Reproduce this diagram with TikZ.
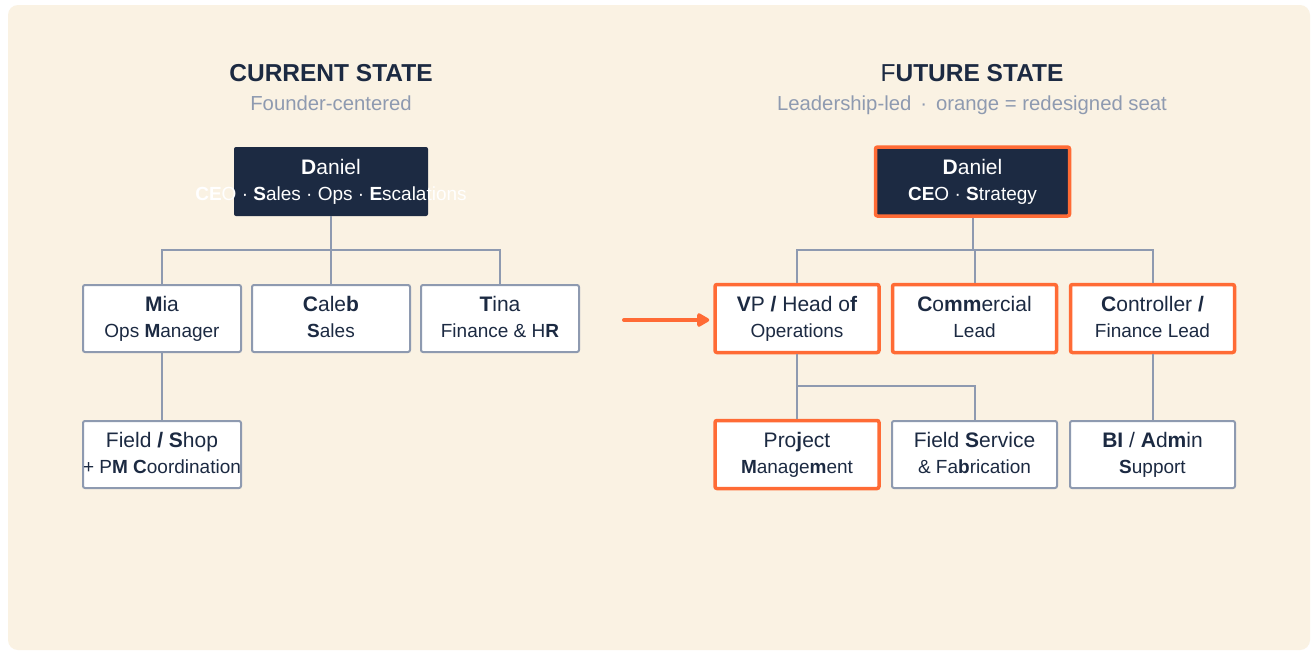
\documentclass[tikz,border=0pt]{standalone}
\usepackage{fontspec}
\setmainfont{Liberation Sans}
\usetikzlibrary{arrows.meta}
\definecolor{cream}{HTML}{FAF2E3}
\definecolor{navy}{HTML}{1C2A42}
\definecolor{slate}{HTML}{8E9AB0}
\definecolor{orng}{HTML}{FF6B35}
\begin{document}
\begin{tikzpicture}[x=1pt,y=-1pt,
  box/.style={draw=slate,line width=2pt,fill=white,rounded corners=2pt,minimum width=158pt,minimum height=67pt,inner sep=0pt},
  obox/.style={box,draw=orng,line width=3.5pt,minimum width=164pt},
  dbox/.style={draw=none,fill=navy,rounded corners=2pt,minimum width=194pt,minimum height=69pt,inner sep=0pt},
  nm/.style={anchor=base,inner sep=0pt,text=navy,font=\fontsize{21}{24}\selectfont},
  rl/.style={anchor=base,inner sep=0pt,text=navy,font=\fontsize{19}{22}\selectfont},
  ttl/.style={anchor=base,inner sep=0pt,text=navy,font=\fontsize{24.5}{28}\selectfont\bfseries},
  sub/.style={anchor=base,inner sep=0pt,text=slate,font=\fontsize{20.3}{24}\selectfont},
  conn/.style={draw=slate,line width=2pt}]
\useasboundingbox (0,0) rectangle (1314,653);
\fill[white] (0,0) rectangle (1314,653);
\fill[cream,rounded corners=10pt] (8,5) rectangle (1310,650);

% titles
\node[ttl] (t1) at (331,81.5) {CURRENT STATE};
\node[sub] (s1) at (331,110) {Founder-centered};
\node[ttl] (t2) at (972,81.5) {\mdseries F\bfseries UTURE STATE};
\node[sub] (s2) at (972,110) {Leadership-led\hspace{9pt}\textperiodcentered\hspace{9pt}orange = redesigned seat};

% current state
\node[dbox] (cd) at (331,181.5) {};
\node[nm,text=white] (cdn) at ([yshift=7pt]cd.center) {\textbf{D}aniel};
\node[rl,text=white] (cdr) at ([yshift=-19pt]cd.center) {\textbf{CE}O \textperiodcentered\ \textbf{S}ales \textperiodcentered\ Ops \textperiodcentered\ \textbf{E}scalations};

\node[box] (mia) at (162,318.5) {};
\node[box] (caleb) at (331,318.5) {};
\node[box] (tina) at (500,318.5) {};
\node[box] (field) at (162,454.5) {};
\node[nm] at ([yshift=7pt]mia.center) {\textbf{M}ia};
\node[rl] at ([yshift=-19pt]mia.center) {Ops \textbf{M}anager};
\node[nm] at ([yshift=7pt]caleb.center) {\textbf{C}ale\textbf{b}};
\node[rl] at ([yshift=-19pt]caleb.center) {\textbf{S}ales};
\node[nm] at ([yshift=7pt]tina.center) {\textbf{T}ina};
\node[rl] at ([yshift=-19pt]tina.center) {Finance \& H\textbf{R}};
\node[nm] at ([yshift=7pt]field.center) {Field \textbf{/} \textbf{S}hop};
\node[rl] at ([yshift=-19pt]field.center) {+ P\textbf{M} \textbf{C}oordination};

\coordinate (cbus) at (331,250);
\draw[conn] (cd.south) -- (caleb.north);
\draw[conn] (mia.north) |- (cbus) -| (tina.north);
\draw[conn] (mia.south) -- (field.north);

% future state boxes
\node[obox,minimum height=68pt] (vp) at (797,318.5) {};
\coordinate (astart) at (624,320);
\draw[orng,line width=4pt,line cap=round,shorten >=4pt,-{Triangle[length=14pt,width=15pt,round]}] (astart) -- (astart -| vp.west);

\node[dbox,draw=orng,line width=3.5pt] (fd) at (972.5,181.5) {};
\node[nm,text=white] at ([yshift=7pt]fd.center) {\textbf{D}aniel};
\node[rl,text=white] at ([yshift=-19pt]fd.center) {\textbf{CE}O \textperiodcentered\ \textbf{S}trategy};

\node[obox,minimum height=68pt] (com) at (974.5,318.5) {};
\node[obox,minimum height=68pt] (ctl) at (1152.5,318.5) {};
\node[obox,minimum height=68pt] (pm) at (797,454.5) {};
\node[box,minimum width=165pt] (fs) at (974.5,454.5) {};
\node[box,minimum width=165pt] (bi) at (1152.5,454.5) {};

\node[nm] at ([yshift=7pt]vp.center) {\textbf{V}P \textbf{/} Head o\textbf{f}};
\node[rl] at ([yshift=-19pt]vp.center) {Operations};
\node[nm] at ([yshift=7pt]com.center) {\textbf{C}o\textbf{mm}ercial};
\node[rl] at ([yshift=-19pt]com.center) {Lead};
\node[nm] at ([yshift=7pt]ctl.center) {\textbf{C}ontroller \textbf{/}};
\node[rl] at ([yshift=-19pt]ctl.center) {Finance Lead};
\node[nm] at ([yshift=7pt]pm.center) {Pro\textbf{j}ect};
\node[rl] at ([yshift=-19pt]pm.center) {\textbf{M}anage\textbf{m}ent};
\node[nm] at ([yshift=7pt]fs.center) {Field \textbf{S}ervice};
\node[rl] at ([yshift=-19pt]fs.center) {\& Fa\textbf{b}rication};
\node[nm] at ([yshift=7pt]bi.center) {\textbf{BI} / \textbf{A}d\textbf{m}in};
\node[rl] at ([yshift=-19pt]bi.center) {\textbf{S}upport};

\coordinate (fbus) at (972.5,250);
\coordinate (vbus) at (797,386);
\draw[conn] (fd.south) -- (fbus);
\draw[conn] (vp.north) |- (fbus) -| (ctl.north);
\draw[conn] (fbus) -| (com.north);
\draw[conn] (vp.south) -- (pm.north);
\draw[conn] (vbus) -| (fs.north);
\draw[conn] (ctl.south) -- (bi.north);
\end{tikzpicture}
\end{document}
